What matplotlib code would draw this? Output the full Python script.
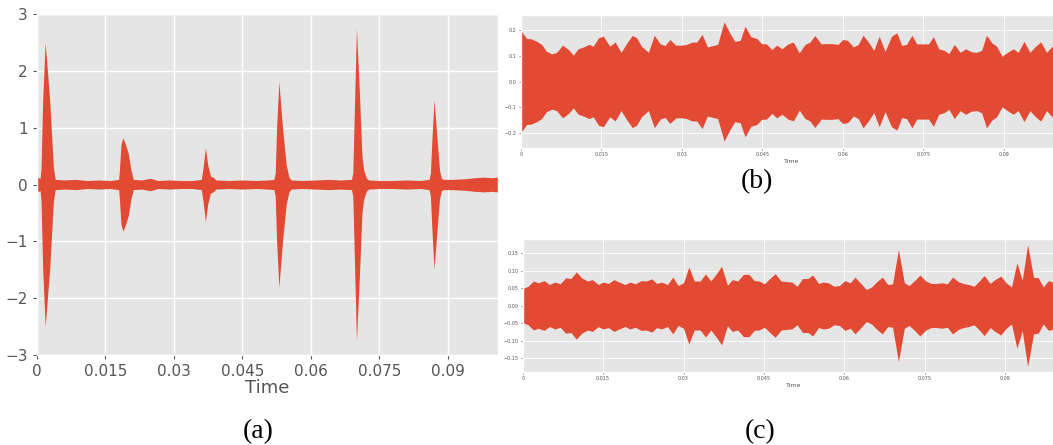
import numpy as np
import matplotlib
matplotlib.use("Agg")
import matplotlib.pyplot as plt

plt.style.use("ggplot")

# ---- panel (a): envelope of the impulse signal (upper half, mirrored below)
a_time = [0.0000, 0.0004, 0.0007, 0.0009, 0.00125, 0.0018, 0.0028, 0.0036, 0.0040,
          0.0060, 0.0085, 0.0110, 0.0135, 0.0160, 0.0179,
          0.0181, 0.0184, 0.0188, 0.0192, 0.0200, 0.0206, 0.0211,
          0.0230, 0.0248, 0.0265, 0.0290, 0.0315, 0.0340, 0.0360,
          0.0364, 0.0369, 0.0374, 0.0380, 0.0386, 0.0392,
          0.0420, 0.0450, 0.0480, 0.0505, 0.0519,
          0.0522, 0.0525, 0.0530, 0.0538, 0.0546, 0.0552, 0.0557,
          0.0580, 0.0610, 0.0640, 0.0665, 0.0689,
          0.0692, 0.0696, 0.0700, 0.0707, 0.0712, 0.0716, 0.0722, 0.0727,
          0.0750, 0.0780, 0.0810, 0.0840, 0.0859,
          0.0862, 0.0865, 0.0870, 0.0877, 0.0882, 0.0886, 0.0891,
          0.0910, 0.0935, 0.0960, 0.0980, 0.0995, 0.1010]
a_amp = [0.11, 0.12, 0.11, 0.30, 1.47, 2.50, 1.47, 0.30, 0.09,
         0.08, 0.09, 0.07, 0.08, 0.07, 0.09,
         0.30, 0.70, 0.82, 0.75, 0.55, 0.25, 0.09,
         0.08, 0.11, 0.07, 0.08, 0.07, 0.07, 0.09,
         0.30, 0.65, 0.35, 0.15, 0.13, 0.08,
         0.07, 0.08, 0.07, 0.08, 0.09,
         0.20, 1.00, 1.81, 1.00, 0.35, 0.13, 0.08,
         0.07, 0.08, 0.09, 0.08, 0.09,
         0.20, 1.50, 2.75, 1.50, 0.50, 0.25, 0.11, 0.08,
         0.07, 0.07, 0.08, 0.07, 0.09,
         0.20, 0.75, 1.49, 0.75, 0.25, 0.11, 0.09,
         0.09, 0.10, 0.12, 0.13, 0.12, 0.13]

# ---- panel (b): envelope of the noise-like signal
b_time = [0.0000, 0.0011, 0.0019, 0.0030, 0.0039, 0.0048, 0.0058, 0.0067, 0.0078, 0.0089,
          0.0098, 0.0107, 0.0117, 0.0127, 0.0135, 0.0145, 0.0154, 0.0166, 0.0176, 0.0187,
          0.0198, 0.0208, 0.0216, 0.0225, 0.0238, 0.0249, 0.0260, 0.0269, 0.0278, 0.0289,
          0.0300, 0.0309, 0.0319, 0.0328, 0.0338, 0.0348, 0.0367, 0.0379, 0.0390, 0.0399,
          0.0409, 0.0418, 0.0429, 0.0440, 0.0449, 0.0458, 0.0468, 0.0477, 0.0487, 0.0498,
          0.0508, 0.0519, 0.0530, 0.0539, 0.0548, 0.0560, 0.0570, 0.0581, 0.0591, 0.0600,
          0.0609, 0.0620, 0.0629, 0.0638, 0.0649, 0.0658, 0.0668, 0.0679, 0.0691, 0.0701,
          0.0710, 0.0719, 0.0729, 0.0738, 0.0748, 0.0760, 0.0769, 0.0779, 0.0789, 0.0798,
          0.0808, 0.0819, 0.0829, 0.0840, 0.0850, 0.0859, 0.0868, 0.0878, 0.0887, 0.0897,
          0.0907, 0.0918, 0.0927, 0.0938, 0.0949, 0.0958, 0.0969, 0.0980, 0.0989, 0.0999,
          0.1010]
b_amp = [0.200, 0.168, 0.167, 0.157, 0.145, 0.118, 0.108, 0.114, 0.142, 0.125,
         0.103, 0.128, 0.135, 0.145, 0.138, 0.171, 0.177, 0.138, 0.154, 0.114,
         0.151, 0.180, 0.171, 0.138, 0.114, 0.181, 0.147, 0.141, 0.164, 0.142,
         0.142, 0.145, 0.154, 0.154, 0.184, 0.135, 0.145, 0.233, 0.188, 0.157,
         0.161, 0.216, 0.175, 0.168, 0.148, 0.147, 0.125, 0.142, 0.128, 0.147,
         0.154, 0.112, 0.145, 0.154, 0.180, 0.147, 0.148, 0.148, 0.145, 0.164,
         0.161, 0.135, 0.145, 0.181, 0.151, 0.122, 0.177, 0.118, 0.177, 0.190,
         0.141, 0.145, 0.181, 0.147, 0.147, 0.147, 0.175, 0.128, 0.122, 0.109,
         0.145, 0.114, 0.128, 0.116, 0.114, 0.122, 0.181, 0.151, 0.138, 0.099,
         0.114, 0.128, 0.114, 0.157, 0.114, 0.135, 0.155, 0.114, 0.135, 0.150,
         0.130]

# ---- panel (c): envelope of the second noise-like signal
c_time = [0.0000, 0.0010, 0.0020, 0.0029, 0.0040, 0.0050, 0.0060, 0.0070, 0.0080, 0.0090,
          0.0100, 0.0110, 0.0121, 0.0130, 0.0141, 0.0150, 0.0160, 0.0170, 0.0180, 0.0191,
          0.0200, 0.0210, 0.0221, 0.0230, 0.0241, 0.0250, 0.0259, 0.0270, 0.0280, 0.0290,
          0.0300, 0.0310, 0.0320, 0.0331, 0.0341, 0.0351, 0.0361, 0.0371, 0.0382, 0.0391,
          0.0401, 0.0412, 0.0422, 0.0432, 0.0441, 0.0451, 0.0461, 0.0471, 0.0482, 0.0493,
          0.0502, 0.0512, 0.0522, 0.0532, 0.0541, 0.0552, 0.0561, 0.0570, 0.0581, 0.0591,
          0.0601, 0.0611, 0.0620, 0.0631, 0.0641, 0.0651, 0.0662, 0.0671, 0.0681, 0.0690,
          0.0701, 0.0712, 0.0721, 0.0731, 0.0741, 0.0752, 0.0762, 0.0773, 0.0782, 0.0792,
          0.0802, 0.0813, 0.0822, 0.0832, 0.0842, 0.0852, 0.0861, 0.0872, 0.0881, 0.0892,
          0.0902, 0.0912, 0.0922, 0.0932, 0.0942, 0.0953, 0.0962, 0.0971, 0.0981, 0.0990,
          0.1000, 0.1010]
c_amp = [0.049, 0.055, 0.070, 0.065, 0.071, 0.060, 0.067, 0.062, 0.079, 0.077,
         0.096, 0.079, 0.070, 0.074, 0.060, 0.067, 0.063, 0.074, 0.067, 0.060,
         0.067, 0.062, 0.071, 0.070, 0.076, 0.063, 0.067, 0.060, 0.081, 0.057,
         0.065, 0.110, 0.070, 0.070, 0.090, 0.070, 0.090, 0.112, 0.058, 0.074,
         0.070, 0.089, 0.089, 0.071, 0.070, 0.062, 0.077, 0.091, 0.070, 0.068,
         0.067, 0.055, 0.077, 0.077, 0.087, 0.063, 0.067, 0.065, 0.055, 0.057,
         0.071, 0.065, 0.081, 0.063, 0.046, 0.053, 0.070, 0.081, 0.060, 0.062,
         0.160, 0.065, 0.057, 0.071, 0.087, 0.070, 0.063, 0.063, 0.065, 0.062,
         0.081, 0.068, 0.063, 0.060, 0.055, 0.070, 0.086, 0.063, 0.074, 0.084,
         0.065, 0.053, 0.122, 0.072, 0.174, 0.081, 0.079, 0.053, 0.071, 0.067,
         0.060, 0.070]

x_ticks = [0, 0.015, 0.03, 0.045, 0.06, 0.075, 0.09]
x_tick_labels = ["0", "0.015", "0.03", "0.045", "0.06", "0.075", "0.09"]
a_yticks = [-3, -2, -1, 0, 1, 2, 3]
b_yticks = [-0.2, -0.1, 0.0, 0.1, 0.2]
b_ytick_labels = ["\u22120.2", "\u22120.1", "0.0", "0.1", "0.2"]
c_yticks = [-0.15, -0.10, -0.05, 0.0, 0.05, 0.10, 0.15]
c_ytick_labels = ["\u22120.15", "\u22120.10", "\u22120.05", "0.00", "0.05", "0.10", "0.15"]

red = "#E24A33"

fig = plt.figure(figsize=(10.53, 4.45), dpi=100)

# (a)
ax_a = fig.add_axes([0.0351, 0.2022, 0.4378, 0.7663])
amp = np.array(a_amp)
ax_a.fill_between(a_time, -amp, amp, color=red, lw=0)
ax_a.set_xlim(0, 0.101)
ax_a.set_ylim(-3, 3)
ax_a.set_xticks(x_ticks)
ax_a.set_xticklabels(x_tick_labels)
ax_a.set_yticks(a_yticks)
ax_a.tick_params(labelsize=11, colors="#555555", length=3)
ax_a.grid(True, color="white", lw=1.0)
ax_a.set_xlabel("Time", fontsize=13, color="#555555", labelpad=0)

# (b)
ax_b = fig.add_axes([0.4945, 0.6674, 0.5147, 0.2989])
amp = np.array(b_amp)
ax_b.fill_between(b_time, -amp, amp, color=red, lw=0)
ax_b.set_xlim(0, 0.101)
ax_b.set_ylim(-0.26, 0.26)
ax_b.set_yticks(b_yticks)
ax_b.set_yticklabels(b_ytick_labels)

# (c)
ax_c = fig.add_axes([0.4964, 0.1640, 0.5141, 0.2989])
amp = np.array(c_amp)
ax_c.fill_between(c_time, -amp, amp, color=red, lw=0)
ax_c.set_xlim(0, 0.101)
ax_c.set_ylim(-0.19, 0.19)
ax_c.set_yticks(c_yticks)
ax_c.set_yticklabels(c_ytick_labels)

for ax in (ax_b, ax_c):
    ax.set_xticks(x_ticks)
    ax.set_xticklabels(x_tick_labels)
    ax.tick_params(labelsize=3.5, colors="#555555", length=1.5, width=0.5, pad=1.5)
    ax.grid(True, color="white", lw=0.6)
    ax.set_xlabel("Time", fontsize=4.5, color="#555555", labelpad=1)

# panel captions
cap = dict(fontsize=20, family="Liberation Serif", ha="center", va="center")
fig.text(258 / 1053, 1 - 432 / 445, "(a)", **cap)
fig.text(757 / 1053, 1 - 182 / 445, "(b)", **cap)
fig.text(760 / 1053, 1 - 432 / 445, "(c)", **cap)

fig.savefig("out.png", dpi=100)
